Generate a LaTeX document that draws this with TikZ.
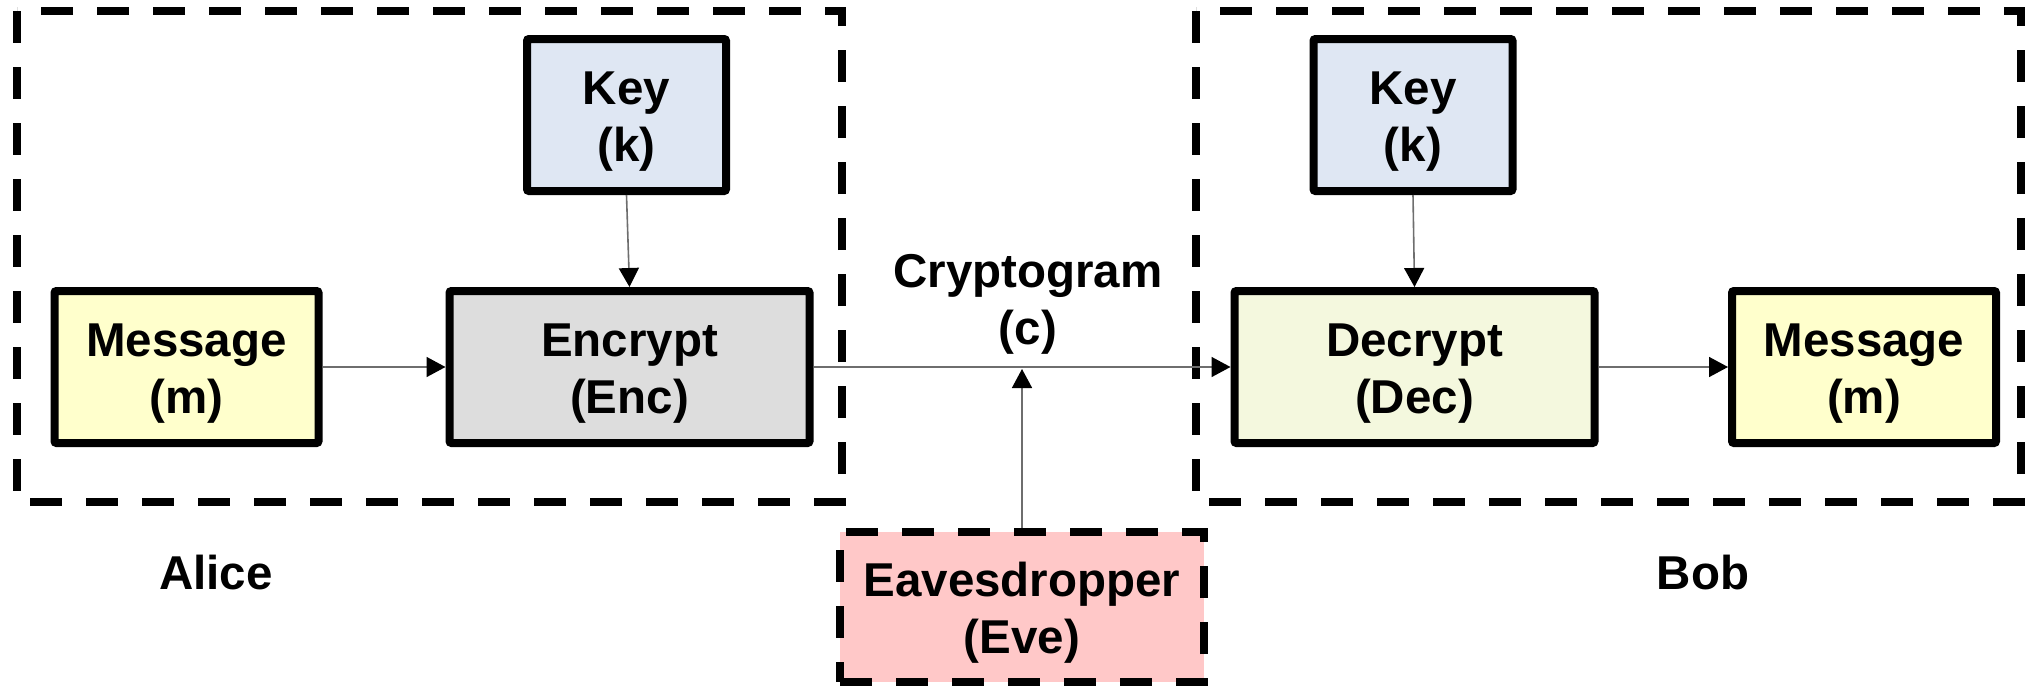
\documentclass[tikz,border=0pt]{standalone}
\usepackage{fontspec}
\setmainfont{Liberation Sans}
\usetikzlibrary{arrows.meta}
\definecolor{msgfill}{HTML}{FFFFCC}
\definecolor{keyfill}{HTML}{DFE7F3}
\definecolor{encfill}{HTML}{DDDDDD}
\definecolor{decfill}{HTML}{F4F8DE}
\definecolor{evefill}{HTML}{FFC8C8}
\definecolor{wire}{HTML}{6E6E6E}
% two centred lines; the box baseline is that of the first line
\newcommand{\twolines}[2]{\vtop{\halign{\hfil##\hfil\cr #1\cr #2\cr}}}
\tikzset{
  bigfont/.style={font=\fontsize{47.5}{57}\selectfont\bfseries},
  % fixed text extents put the first baseline 10.5pt above the node centre
  twoline/.style={bigfont, text height=40pt, text depth=61pt},
  block/.style={twoline, draw=black, line width=8pt, rounded corners=2pt,
    minimum height=152pt, inner sep=0pt},
  party/.style={draw=black, line width=8pt, dash pattern=on 32pt off 24pt},
  flow/.style={draw=wire, line width=1.6pt,
    -{Triangle[length=19pt,width=20pt,color=black]}},
}
\begin{document}
\begin{tikzpicture}[x=1pt,y=-1pt]
\useasboundingbox (0,0) rectangle (2030,689);

% sender and receiver groups
\draw[party] (17,11) rectangle (842,502);
\draw[party] (1196,11) rectangle (2021,502);

% Alice's side
\node[block, fill=msgfill, minimum width=264pt] (msgA) at (186.5,367) {\twolines{Message}{(m)}};
\node[block, fill=encfill, minimum width=360pt] (enc) at (629.5,367) {\twolines{Encrypt}{(Enc)}};
\node[block, fill=keyfill, minimum width=199pt] (keyA) at (626.5,115) {\twolines{Key}{(k)}};

% Bob's side
\node[block, fill=decfill, minimum width=360pt] (dec) at (1414.5,367) {\twolines{Decrypt}{(Dec)}};
\node[block, fill=msgfill, minimum width=264pt] (msgB) at (1864,367) {\twolines{Message}{(m)}};
\node[block, fill=keyfill, minimum width=199pt] (keyB) at (1413,115) {\twolines{Key}{(k)}};

% eavesdropper
\node[twoline, party, fill=evefill, minimum width=364pt, minimum height=150pt,
  inner sep=0pt] (eve) at (1022,607) {\twolines{Eavesdropper}{(Eve)}};

% labels
\node[twoline, inner sep=0pt] (crypt) at (1028,297.5) {\twolines{Cryptogram}{(c)}};
\node[bigfont, inner sep=0pt] (alice) at (216,572.5) {Alice};
\node[bigfont, inner sep=0pt] (bob) at (1703,572.5) {Bob};

% channel tap point
\coordinate (tap) at (1022,369);

% connectors
\draw[flow] (msgA) -- (enc);
\draw[flow] (keyA.south) -- (enc.north);
\draw[flow] (enc) -- (dec);
\draw[flow] (keyB.south) -- (dec.north);
\draw[flow] (dec) -- (msgB);
\draw[flow] (eve.north) -- (tap);
\end{tikzpicture}
\end{document}
